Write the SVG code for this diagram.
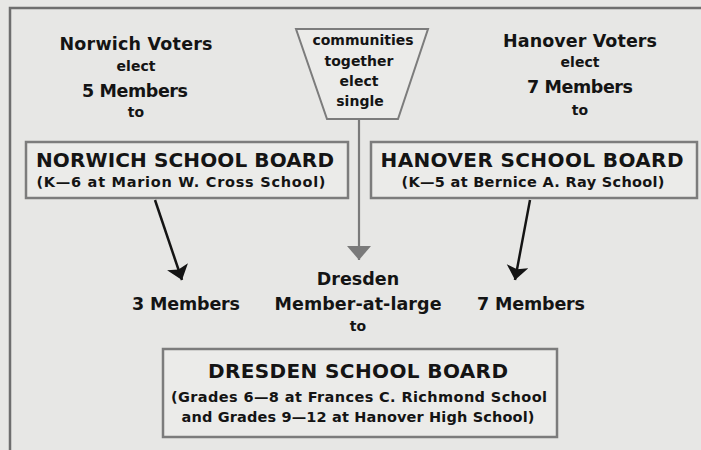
<svg xmlns="http://www.w3.org/2000/svg" width="701" height="450" viewBox="0 0 701 450">
<defs>
<style>
text{font-family:"DejaVu Sans","Liberation Sans",sans-serif;font-weight:bold;fill:#141414;text-anchor:middle}
.big{font-size:17.5px}
.sm{font-size:14px}
.title{font-size:20px}
.sub{font-size:14.5px}
.box{fill:#ebebe9;stroke:#7c7c7c;stroke-width:2.5}
.frame{stroke:#6e6e6e;stroke-width:2.5;fill:none}
.blk{stroke:#141414;stroke-width:2.5;fill:none}
.gry{stroke:#7a7a7a;stroke-width:2.2;fill:none}
</style>
<marker id="ahB" markerUnits="userSpaceOnUse" markerWidth="16" markerHeight="24" refX="14" refY="11" orient="auto" viewBox="0 0 16 24">
<path d="M0,0 L14,11 L0,22 L3,11 Z" fill="#141414"/>
</marker>
<marker id="ahG" markerUnits="userSpaceOnUse" markerWidth="16" markerHeight="26" refX="14" refY="12" orient="auto" viewBox="0 0 16 26">
<path d="M0,0 L14,12 L0,24 Z" fill="#7a7a7a"/>
</marker>
</defs>
<rect x="0" y="0" width="701" height="450" fill="#e7e7e5"/>
<path class="frame" d="M10,450 L10,8 L701,8"/>

<g id="norwich-voters">
<text class="big" x="136" y="50" textLength="153">Norwich Voters</text>
<text class="sm" x="136" y="71">elect</text>
<text class="big" x="135" y="97" textLength="106">5 Members</text>
<text class="sm" x="136" y="117">to</text>
</g>

<g id="hanover-voters">
<text class="big" x="580" y="47" textLength="154">Hanover Voters</text>
<text class="sm" x="580" y="67">elect</text>
<text class="big" x="580" y="93" textLength="106">7 Members</text>
<text class="sm" x="580" y="115">to</text>
</g>

<g id="communities">
<polygon points="296,29 428,29 398,119 327,119" fill="#ebebe9" stroke="#7c7c7c" stroke-width="2"/>
<text class="sm" x="363" y="45">communities</text>
<text class="sm" x="359" y="66">together</text>
<text class="sm" x="359" y="86">elect</text>
<text class="sm" x="360" y="106">single</text>
</g>

<g id="norwich-board">
<rect class="box" x="26" y="142" width="322" height="56"/>
<text class="title" x="185" y="167" textLength="298">NORWICH SCHOOL BOARD</text>
<text class="sub" x="181" y="187" textLength="289">(K—6 at Marion W. Cross School)</text>
</g>

<g id="hanover-board">
<rect class="box" x="371" y="142" width="326" height="56"/>
<text class="title" x="532" y="167" textLength="303">HANOVER SCHOOL BOARD</text>
<text class="sub" x="533" y="187" textLength="263">(K—5 at Bernice A. Ray School)</text>
</g>

<g id="norwich-members">
<text class="big" x="186" y="310" textLength="108">3 Members</text>
</g>

<g id="dresden-member">
<text class="big" x="358" y="285">Dresden</text>
<text class="big" x="358" y="310" textLength="167">Member-at-large</text>
<text class="sm" x="358" y="331">to</text>
</g>

<g id="hanover-members">
<text class="big" x="531" y="310" textLength="108">7 Members</text>
</g>

<g id="dresden-board">
<rect class="box" x="163" y="349" width="394" height="88"/>
<text class="title" x="358" y="378" textLength="300">DRESDEN SCHOOL BOARD</text>
<text class="sub" x="359" y="402" textLength="376">(Grades 6—8 at Frances C. Richmond School</text>
<text class="sub" x="358" y="422" textLength="353">and Grades 9—12 at Hanover High School)</text>
</g>

<g id="connectors">
<line class="blk" x1="155" y1="200" x2="182" y2="280" marker-end="url(#ahB)"/>
<line class="blk" x1="530" y1="200" x2="515" y2="280" marker-end="url(#ahB)"/>
<line class="gry" x1="359" y1="120" x2="359" y2="260" marker-end="url(#ahG)"/>
</g>
</svg>
